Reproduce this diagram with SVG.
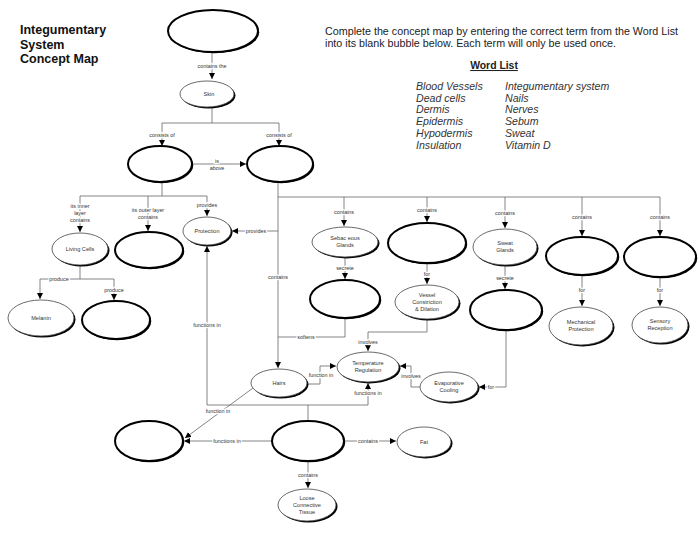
<svg xmlns="http://www.w3.org/2000/svg" width="700" height="547" viewBox="0 0 700 547">
<style>
text{font-family:"Liberation Sans",Arial,sans-serif;}
.title{font-size:12.5px;font-weight:bold;fill:#111;}
.instr{font-size:10.4px;fill:#222;}
.wlh{font-size:10.4px;font-weight:bold;fill:#222;text-decoration:underline;}
.wl{font-size:10.6px;font-style:italic;fill:#333;}
.lbl{font-size:5.4px;fill:#333;text-anchor:middle;stroke:#fff;stroke-width:2.4px;paint-order:stroke;stroke-linejoin:round;}
.nt{font-size:5.6px;fill:#333;text-anchor:middle;}
.sh{fill:#000;}
.ln{fill:#fff;stroke:#444;stroke-width:0.8;}
.bk{fill:#fff;stroke:#000;stroke-width:2;}
.c path{fill:none;stroke:#666;stroke-width:0.8;}
</style>
<defs>
<marker id="ah" markerUnits="userSpaceOnUse" markerWidth="7" markerHeight="6" refX="6" refY="3" orient="auto">
<path d="M0,0 L6,3 L0,6 z" fill="#000"/>
</marker>
</defs>
<rect width="700" height="547" fill="#fff"/>

<g id="title">
<text class="title" x="20" y="34">Integumentary</text>
<text class="title" x="20" y="48.5">System</text>
<text class="title" x="20" y="63">Concept Map</text>
</g>
<g id="instructions">
<text class="instr" x="325" y="35" textLength="353" lengthAdjust="spacingAndGlyphs">Complete the concept map by entering the correct term from the Word List</text>
<text class="instr" x="325" y="47" textLength="291" lengthAdjust="spacingAndGlyphs">into its blank bubble below. Each term will only be used once.</text>
</g>
<g id="wordlist">
<text class="wlh" x="494" y="69" text-anchor="middle">Word List</text>
<text class="wl" x="416" y="90">Blood Vessels</text>
<text class="wl" x="416" y="101.7">Dead cells</text>
<text class="wl" x="416" y="113.4">Dermis</text>
<text class="wl" x="416" y="125.1">Epidermis</text>
<text class="wl" x="416" y="136.8">Hypodermis</text>
<text class="wl" x="416" y="148.5">Insulation</text>
<text class="wl" x="505" y="90">Integumentary system</text>
<text class="wl" x="505" y="101.7">Nails</text>
<text class="wl" x="505" y="113.4">Nerves</text>
<text class="wl" x="505" y="125.1">Sebum</text>
<text class="wl" x="505" y="136.8">Sweat</text>
<text class="wl" x="505" y="148.5">Vitamin D</text>
</g>

<g id="connectors" class="c">
<path d="M212,52 V79" marker-end="url(#ah)"/>
<path d="M212,107 V123 M162,123 H279"/>
<path d="M162,123 V146" marker-end="url(#ah)"/>
<path d="M279,123 V146" marker-end="url(#ah)"/>
<path d="M192,164 H246" marker-end="url(#ah)"/>
<path d="M162,182 V196 M80,196 H207"/>
<path d="M80,196 V232" marker-end="url(#ah)"/>
<path d="M148,196 V231" marker-end="url(#ah)"/>
<path d="M207,196 V216" marker-end="url(#ah)"/>
<path d="M278,182 V368" marker-end="url(#ah)"/>
<path d="M278,197 H660"/>
<path d="M344,197 V226" marker-end="url(#ah)"/>
<path d="M427,197 V222" marker-end="url(#ah)"/>
<path d="M505,197 V228" marker-end="url(#ah)"/>
<path d="M582,197 V236" marker-end="url(#ah)"/>
<path d="M660,197 V236" marker-end="url(#ah)"/>
<path d="M278,231 H232" marker-end="url(#ah)"/>
<path d="M345,257 V279" marker-end="url(#ah)"/>
<path d="M427,263 V284" marker-end="url(#ah)"/>
<path d="M505,265 V289" marker-end="url(#ah)"/>
<path d="M582,275 V306" marker-end="url(#ah)"/>
<path d="M660,277 V306" marker-end="url(#ah)"/>
<path d="M80,265 V279 M40,279 H114"/>
<path d="M40,279 V299" marker-end="url(#ah)"/>
<path d="M114,279 V300" marker-end="url(#ah)"/>
<path d="M345,318 V337 H278"/>
<path d="M427,319 V332 H368 V351" marker-end="url(#ah)"/>
<path d="M307,384 H320 V366 H336" marker-end="url(#ah)"/>
<path d="M421,387 H411 V366 H400" marker-end="url(#ah)"/>
<path d="M506,330 V387 H479" marker-end="url(#ah)"/>
<path d="M207,405 H368 M308,405 V421"/>
<path d="M368,405 V383" marker-end="url(#ah)"/>
<path d="M207,405 V246" marker-end="url(#ah)"/>
<path d="M272,441 H184" marker-end="url(#ah)"/>
<path d="M253,388 L185,438" marker-end="url(#ah)"/>
<path d="M345,441 H396" marker-end="url(#ah)"/>
<path d="M308,461 V488" marker-end="url(#ah)"/>
</g>

<g id="connector-labels">
<text class="lbl" x="212" y="68">contains the</text>
<text class="lbl" x="162" y="137">consists of</text>
<text class="lbl" x="279" y="137">consists of</text>
<text class="lbl" x="217" y="163">is</text>
<text class="lbl" x="217" y="170">above</text>
<text class="lbl" x="80" y="208">its inner</text>
<text class="lbl" x="80" y="215">layer</text>
<text class="lbl" x="80" y="222">contains</text>
<text class="lbl" x="148" y="212">its outer layer</text>
<text class="lbl" x="148" y="219">contains</text>
<text class="lbl" x="207" y="207">provides</text>
<text class="lbl" x="256" y="233">provides</text>
<text class="lbl" x="278" y="279">contains</text>
<text class="lbl" x="344" y="214">contains</text>
<text class="lbl" x="427" y="212">contains</text>
<text class="lbl" x="505" y="215">contains</text>
<text class="lbl" x="582" y="219">contains</text>
<text class="lbl" x="660" y="219">contains</text>
<text class="lbl" x="345" y="270">secrete</text>
<text class="lbl" x="427" y="276">for</text>
<text class="lbl" x="505" y="280">secrete</text>
<text class="lbl" x="582" y="292">for</text>
<text class="lbl" x="660" y="292">for</text>
<text class="lbl" x="59" y="281">produce</text>
<text class="lbl" x="114" y="292">produce</text>
<text class="lbl" x="207" y="327">functions in</text>
<text class="lbl" x="306" y="339">softens</text>
<text class="lbl" x="368" y="344">involves</text>
<text class="lbl" x="321" y="377">function in</text>
<text class="lbl" x="411" y="378">involves</text>
<text class="lbl" x="491" y="389">for</text>
<text class="lbl" x="368" y="395">functions in</text>
<text class="lbl" x="218" y="413">function in</text>
<text class="lbl" x="227" y="443">functions in</text>
<text class="lbl" x="368" y="443">contains</text>
<text class="lbl" x="308" y="477">contains</text>
</g>

<g id="n-integumentary"><ellipse class="sh" cx="214.2" cy="32.2" rx="45" ry="21"/><ellipse class="bk" cx="213" cy="31" rx="45" ry="21"/></g>
<g id="n-skin"><ellipse class="sh" cx="208.5" cy="95.5" rx="27" ry="13"/><ellipse class="ln" cx="207" cy="94" rx="27" ry="13"/><text class="nt" x="209" y="96">Skin</text></g>
<g id="n-epidermis"><ellipse class="sh" cx="161.2" cy="165.2" rx="32" ry="18"/><ellipse class="bk" cx="160" cy="164" rx="32" ry="18"/></g>
<g id="n-dermis"><ellipse class="sh" cx="281.2" cy="165.2" rx="33" ry="18"/><ellipse class="bk" cx="280" cy="164" rx="33" ry="18"/></g>
<g id="n-living"><ellipse class="sh" cx="81.5" cy="250.5" rx="28" ry="16"/><ellipse class="ln" cx="80" cy="249" rx="28" ry="16"/><text class="nt" x="80" y="251">Living Cells</text></g>
<g id="n-dead"><ellipse class="sh" cx="150.2" cy="251.2" rx="34" ry="18"/><ellipse class="bk" cx="149" cy="250" rx="34" ry="18"/></g>
<g id="n-protection"><ellipse class="sh" cx="208.5" cy="232.5" rx="24" ry="14"/><ellipse class="ln" cx="207" cy="231" rx="24" ry="14"/><text class="nt" x="207" y="233">Protection</text></g>
<g id="n-melanin"><ellipse class="sh" cx="42.5" cy="319.5" rx="33" ry="18"/><ellipse class="ln" cx="41" cy="318" rx="33" ry="18"/><text class="nt" x="41" y="320">Melanin</text></g>
<g id="n-vitd"><ellipse class="sh" cx="117.2" cy="321.2" rx="34" ry="19"/><ellipse class="bk" cx="116" cy="320" rx="34" ry="19"/></g>
<g id="n-sebaceous"><ellipse class="sh" cx="346.5" cy="243.5" rx="33" ry="15"/><ellipse class="ln" cx="345" cy="242" rx="33" ry="15"/><text class="nt" x="345" y="240">Sebac eous</text><text class="nt" x="345" y="247">Glands</text></g>
<g id="n-blood"><ellipse class="sh" cx="428.2" cy="244.2" rx="39" ry="20"/><ellipse class="bk" cx="427" cy="243" rx="39" ry="20"/></g>
<g id="n-sweatglands"><ellipse class="sh" cx="506.5" cy="248.5" rx="32" ry="18"/><ellipse class="ln" cx="505" cy="247" rx="32" ry="18"/><text class="nt" x="505" y="245">Sweat</text><text class="nt" x="505" y="252">Glands</text></g>
<g id="n-nails"><ellipse class="sh" cx="583.2" cy="257.2" rx="36" ry="19"/><ellipse class="bk" cx="582" cy="256" rx="36" ry="19"/></g>
<g id="n-nerves"><ellipse class="sh" cx="661.2" cy="258.2" rx="36" ry="20"/><ellipse class="bk" cx="660" cy="257" rx="36" ry="20"/></g>
<g id="n-sebum"><ellipse class="sh" cx="346.2" cy="300.2" rx="35" ry="19"/><ellipse class="bk" cx="345" cy="299" rx="35" ry="19"/></g>
<g id="n-vessel"><ellipse class="sh" cx="428.5" cy="303.5" rx="32" ry="17"/><ellipse class="ln" cx="427" cy="302" rx="32" ry="17"/><text class="nt" x="427" y="297">Vessel</text><text class="nt" x="427" y="304">Constriction</text><text class="nt" x="427" y="311">&amp; Dilation</text></g>
<g id="n-sweat"><ellipse class="sh" cx="507.2" cy="311.2" rx="36" ry="20"/><ellipse class="bk" cx="506" cy="310" rx="36" ry="20"/></g>
<g id="n-mech"><ellipse class="sh" cx="582.5" cy="327.5" rx="32" ry="19"/><ellipse class="ln" cx="581" cy="326" rx="32" ry="19"/><text class="nt" x="581" y="324">Mechanical</text><text class="nt" x="581" y="331">Protection</text></g>
<g id="n-sensory"><ellipse class="sh" cx="661.5" cy="326.5" rx="28" ry="18"/><ellipse class="ln" cx="660" cy="325" rx="28" ry="18"/><text class="nt" x="660" y="323">Sensory</text><text class="nt" x="660" y="330">Reception</text></g>
<g id="n-temp"><ellipse class="sh" cx="369.5" cy="368.5" rx="31" ry="15"/><ellipse class="ln" cx="368" cy="367" rx="31" ry="15"/><text class="nt" x="368" y="365">Temperature</text><text class="nt" x="368" y="372">Regulation</text></g>
<g id="n-hairs"><ellipse class="sh" cx="280.5" cy="384.5" rx="28" ry="14"/><ellipse class="ln" cx="279" cy="383" rx="28" ry="14"/><text class="nt" x="279" y="385">Hairs</text></g>
<g id="n-evap"><ellipse class="sh" cx="450.5" cy="388.5" rx="29" ry="15"/><ellipse class="ln" cx="449" cy="387" rx="29" ry="15"/><text class="nt" x="449" y="385">Evaporative</text><text class="nt" x="449" y="392">Cooling</text></g>
<g id="n-insulation"><ellipse class="sh" cx="150.2" cy="442.2" rx="34" ry="20"/><ellipse class="bk" cx="149" cy="441" rx="34" ry="20"/></g>
<g id="n-hypodermis"><ellipse class="sh" cx="309.2" cy="442.2" rx="36" ry="20"/><ellipse class="bk" cx="308" cy="441" rx="36" ry="20"/></g>
<g id="n-fat"><ellipse class="sh" cx="425.5" cy="443.5" rx="27" ry="15"/><ellipse class="ln" cx="424" cy="442" rx="27" ry="15"/><text class="nt" x="424" y="444">Fat</text></g>
<g id="n-loose"><ellipse class="sh" cx="308.5" cy="506.5" rx="29" ry="16"/><ellipse class="ln" cx="307" cy="505" rx="29" ry="16"/><text class="nt" x="307" y="500">Loose</text><text class="nt" x="307" y="507">Connective</text><text class="nt" x="307" y="514">Tissue</text></g>
</svg>
